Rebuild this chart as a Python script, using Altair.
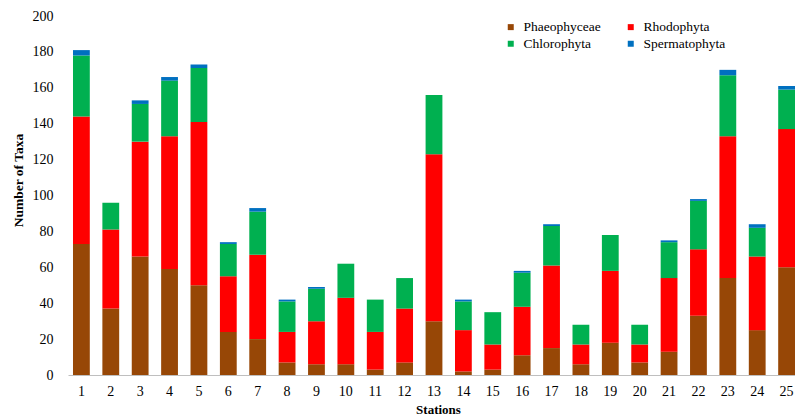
import altair as alt
import pandas as pd

stations = [str(i) for i in range(1, 26)]
series = ["Phaeophyceae", "Rhodophyta", "Chlorophyta", "Spermatophyta"]
colors = ["#974706", "#FF0000", "#00B050", "#0070C0"]
legend_order = ["Phaeophyceae", "Chlorophyta", "Rhodophyta", "Spermatophyta"]
legend_colors = ["#974706", "#00B050", "#FF0000", "#0070C0"]

phaeophyceae = [73, 37, 66, 59, 50, 24, 20, 7, 6, 6, 3, 7, 30, 2, 3, 11, 15, 6, 18, 7, 13, 33, 54, 25, 60]
rhodophyta   = [71, 44, 64, 74, 91, 31, 47, 17, 24, 37, 21, 30, 93, 23, 14, 27, 46, 11, 40, 10, 41, 37, 79, 41, 77]
chlorophyta  = [34, 15, 21, 31, 30, 18, 24, 17, 18, 19, 18, 17, 33, 16, 18, 19, 22, 11, 20, 11, 20, 27, 34, 16, 22]
spermatophyta = [3, 0, 2, 2, 2, 1, 2, 1, 1, 0, 0, 0, 0, 1, 0, 1, 1, 0, 0, 0, 1, 1, 3, 2, 2]

values = [phaeophyceae, rhodophyta, chlorophyta, spermatophyta]
rows = []
for si, (name, vals) in enumerate(zip(series, values)):
    for st, v in zip(stations, vals):
        rows.append({"Station": st, "Group": name, "Value": v, "idx": si})
df = pd.DataFrame(rows)

FONT = "Liberation Serif"

chart = alt.Chart(df).mark_bar().encode(
    x=alt.X(
        "Station:O",
        sort=stations,
        scale=alt.Scale(paddingInner=0.428, paddingOuter=0.085, align=1),
        axis=alt.Axis(
            title="Stations", labelAngle=0, ticks=False, domain=True,
            domainColor="#bfbfbf", labelFont=FONT, labelFontSize=14,
            labelColor="#000000", labelPadding=9, titleFont=FONT,
            titleFontSize=13, titleFontWeight="bold", titleColor="#000000",
            titlePadding=5, titleX=370,
        ),
    ),
    y=alt.Y(
        "Value:Q",
        stack="zero",
        scale=alt.Scale(domain=[0, 200], nice=False),
        axis=alt.Axis(
            title="Number of Taxa", values=list(range(0, 201, 20)),
            grid=False, domain=False, ticks=False, labelFont=FONT,
            labelFontSize=14, labelColor="#000000", labelPadding=15,
            titleFont=FONT, titleFontSize=13.5, titleFontWeight="bold",
            titleColor="#000000", titleX=-50, titleY=164, titleAngle=270,
            titleBaseline="middle", titleAlign="center",
        ),
    ),
    color=alt.Color(
        "Group:N",
        sort=legend_order,
        scale=alt.Scale(domain=legend_order, range=legend_colors),
        legend=alt.Legend(
            title=None, orient="none", legendX=436, legendY=4, columns=2,
            symbolType="square", symbolSize=36, symbolStrokeWidth=0,
            labelFont=FONT, labelFontSize=13.5, labelColor="#000000",
            columnPadding=23, rowPadding=2, labelOffset=6, padding=0,
        ),
    ),
    order=alt.Order("idx:Q", sort="ascending"),
).properties(
    width=727,
    height=359,
    autosize=alt.AutoSizeParams(type="none"),
    padding={"left": 60, "top": 8, "right": 0, "bottom": 43},
).configure_view(stroke=None)

chart.save("out.html", embed_options={"renderer": "svg", "actions": False})
